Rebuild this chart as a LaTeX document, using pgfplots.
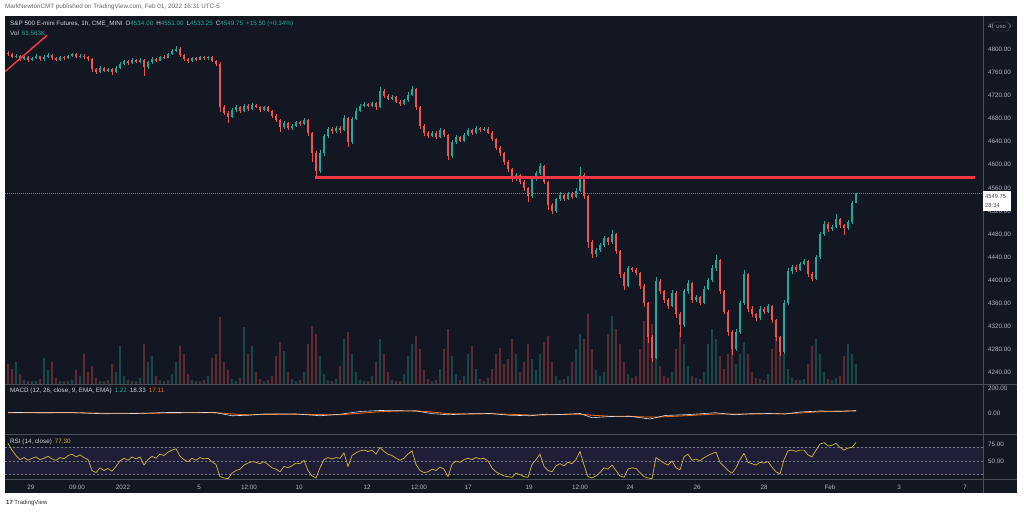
\documentclass[border=0pt]{standalone}
\usepackage{pgfplots}
\usepackage{pgfplotstable}
\pgfplotsset{compat=1.18}
\usepackage{fontspec}
\setmainfont{Liberation Sans}
\definecolor{bg}{HTML}{131722}
\definecolor{upc}{HTML}{26A69A}
\definecolor{dnc}{HTML}{EF5350}
\definecolor{txt}{HTML}{D1D4DC}
\definecolor{axtxt}{HTML}{B2B5BE}
\definecolor{sep}{HTML}{4A4E59}
\definecolor{rsic}{HTML}{CDB73E}
\definecolor{band}{HTML}{1F1E36}
\definecolor{sig}{HTML}{FF6D00}
\definecolor{macdc}{HTML}{D8DCE6}
\definecolor{trendred}{RGB}{242,54,69}
\definecolor{pline}{HTML}{7A7E89}

\pgfplotstableread{
x o h l c v r
8 4795 4798 4789 4792 20 76
12 4792 4794 4785 4788 15 66
16 4788 4793 4786 4790 22 58
20 4790 4791 4781 4784 10 52
24 4784 4790 4782 4787 4 55
28 4787 4789 4779 4782 3 51
32 4782 4788 4780 4786 3 54
36 4786 4792 4784 4789 3 56
40 4789 4790 4781 4784 5 52
44 4784 4791 4780 4787 26 54
48 4787 4795 4785 4791 14 57
52 4791 4793 4783 4786 22 53
56 4786 4788 4780 4783 6 51
60 4783 4789 4781 4787 3 55
64 4787 4789 4783 4785 3 53
68 4785 4791 4784 4789 3 58
72 4789 4795 4787 4792 4 60
76 4792 4794 4786 4788 14 56
80 4788 4793 4786 4790 8 59
84 4790 4792 4784 4787 30 55
88 4787 4789 4780 4784 12 52
92 4784 4785 4762 4766 18 36
96 4766 4769 4758 4762 6 33
100 4762 4771 4760 4768 3 40
104 4768 4770 4761 4763 3 36
108 4763 4769 4761 4766 4 39
112 4766 4768 4757 4761 20 35
116 4761 4771 4759 4768 12 42
120 4768 4779 4766 4776 38 50
124 4776 4783 4774 4780 8 54
128 4780 4782 4774 4777 4 51
132 4777 4785 4776 4782 3 56
136 4782 4784 4777 4779 3 53
140 4779 4786 4777 4783 6 56
144 4783 4784 4755 4770 40 44
148 4770 4781 4767 4778 22 52
152 4778 4787 4776 4784 28 57
156 4784 4786 4778 4781 8 54
160 4781 4790 4780 4788 4 60
164 4788 4791 4784 4786 3 58
168 4786 4795 4785 4793 4 63
172 4793 4801 4791 4798 10 66
176 4798 4806 4796 4802 22 68
180 4802 4804 4788 4791 38 57
184 4791 4793 4781 4784 30 52
188 4784 4786 4777 4780 10 49
192 4780 4788 4779 4786 4 54
196 4786 4788 4781 4783 3 51
200 4783 4790 4782 4788 3 55
204 4788 4790 4783 4785 4 53
208 4785 4790 4783 4787 8 54
212 4787 4789 4778 4781 26 49
216 4781 4783 4772 4776 30 45
220 4776 4778 4692 4700 67 27
224 4700 4704 4686 4690 22 25
228 4690 4694 4673 4683 14 24
232 4683 4698 4681 4695 5 32
236 4695 4704 4692 4700 3 36
240 4700 4702 4690 4693 6 38
244 4693 4705 4691 4702 57 44
248 4702 4706 4694 4697 30 47
252 4697 4708 4695 4704 38 49
256 4704 4706 4698 4700 12 48
260 4700 4702 4692 4695 5 46
264 4695 4703 4693 4701 3 49
268 4701 4703 4691 4694 4 45
272 4694 4696 4682 4685 8 40
276 4685 4688 4674 4678 28 38
280 4678 4680 4657 4665 42 34
284 4665 4676 4662 4672 33 42
288 4672 4674 4660 4664 12 40
292 4664 4671 4661 4668 5 43
296 4668 4677 4666 4674 3 47
300 4674 4676 4668 4671 4 46
304 4671 4681 4669 4678 12 51
308 4678 4680 4650 4655 40 36
312 4655 4657 4605 4620 58 28
316 4620 4624 4577 4590 50 25
320 4590 4625 4585 4620 28 40
324 4620 4654 4616 4650 10 52
328 4650 4666 4647 4662 4 55
332 4662 4665 4654 4658 3 53
336 4658 4667 4655 4664 5 55
340 4664 4667 4656 4660 18 54
344 4660 4687 4658 4682 45 62
348 4682 4684 4631 4640 52 42
352 4640 4684 4637 4680 30 58
356 4680 4698 4678 4694 12 62
360 4694 4706 4691 4702 4 65
364 4702 4709 4700 4706 3 66
368 4706 4708 4700 4703 3 64
372 4703 4710 4701 4707 8 66
376 4707 4709 4696 4700 22 60
380 4700 4736 4698 4728 45 70
384 4728 4731 4716 4720 30 64
388 4720 4723 4712 4715 12 60
392 4715 4721 4713 4718 4 58
396 4718 4720 4707 4710 3 54
400 4710 4712 4703 4706 3 51
404 4706 4715 4704 4712 10 54
408 4712 4726 4710 4722 28 60
412 4722 4737 4720 4732 40 65
416 4732 4734 4695 4700 48 45
420 4700 4702 4662 4668 35 36
424 4668 4671 4650 4655 14 33
428 4655 4658 4646 4650 5 34
432 4650 4659 4648 4656 3 38
436 4656 4658 4645 4648 4 36
440 4648 4664 4646 4660 15 41
444 4660 4663 4648 4652 35 38
448 4652 4654 4609 4615 55 27
452 4615 4644 4612 4640 28 45
456 4640 4652 4637 4648 10 50
460 4648 4650 4639 4642 4 48
464 4642 4655 4640 4652 8 52
468 4652 4664 4650 4660 30 54
472 4660 4662 4652 4655 38 52
476 4655 4667 4653 4664 15 55
480 4664 4666 4657 4660 5 53
484 4660 4666 4658 4663 3 54
488 4663 4665 4653 4656 6 50
492 4656 4658 4642 4645 15 40
496 4645 4647 4626 4630 30 34
500 4630 4633 4615 4620 36 31
504 4620 4622 4600 4605 20 28
508 4605 4608 4588 4592 25 27
512 4592 4595 4570 4575 45 26
516 4575 4586 4572 4582 30 32
520 4582 4584 4566 4570 12 30
524 4570 4573 4555 4560 22 27
528 4560 4562 4535 4545 40 26
532 4545 4579 4542 4575 25 45
536 4575 4589 4572 4585 14 52
540 4585 4604 4582 4598 30 60
544 4598 4600 4566 4570 42 42
548 4570 4572 4522 4530 48 36
552 4530 4534 4514 4520 22 34
556 4520 4543 4517 4540 8 43
560 4540 4552 4537 4548 4 46
564 4548 4550 4537 4540 5 43
568 4540 4553 4538 4550 8 48
572 4550 4552 4541 4544 22 46
576 4544 4560 4542 4555 35 52
580 4555 4596 4552 4582 50 64
584 4582 4585 4540 4545 45 44
588 4545 4548 4455 4465 70 27
592 4465 4470 4438 4445 35 25
596 4445 4456 4440 4452 14 28
600 4452 4464 4449 4460 8 33
604 4460 4476 4457 4472 12 40
608 4472 4475 4461 4465 50 38
612 4465 4487 4462 4480 68 44
616 4480 4482 4445 4450 55 36
620 4450 4452 4403 4410 40 28
624 4410 4413 4383 4390 22 26
628 4390 4424 4387 4420 10 38
632 4420 4423 4414 4418 6 40
636 4418 4421 4408 4412 8 39
640 4412 4414 4385 4390 35 33
644 4390 4392 4352 4360 63 27
648 4360 4362 4290 4300 72 25
652 4300 4305 4257 4265 60 24
656 4265 4405 4262 4398 45 55
660 4398 4402 4375 4380 18 51
664 4380 4383 4360 4365 8 47
668 4365 4368 4350 4355 6 44
672 4355 4383 4352 4378 12 50
676 4378 4380 4333 4340 35 40
680 4340 4344 4300 4322 52 37
684 4322 4385 4318 4380 40 56
688 4380 4400 4376 4395 18 60
692 4395 4397 4360 4365 8 51
696 4365 4374 4362 4370 6 53
700 4370 4372 4356 4360 5 50
704 4360 4389 4358 4385 12 55
708 4385 4404 4382 4400 40 58
712 4400 4425 4397 4420 55 61
716 4420 4444 4416 4435 45 63
720 4435 4437 4375 4380 28 48
724 4380 4383 4340 4345 15 42
728 4345 4348 4303 4310 30 36
732 4310 4313 4270 4280 40 32
736 4280 4315 4277 4310 20 40
740 4310 4364 4306 4360 30 52
744 4360 4418 4356 4410 42 61
748 4410 4412 4345 4350 30 48
752 4350 4354 4335 4340 12 46
756 4340 4343 4328 4333 6 44
760 4333 4354 4330 4350 5 48
764 4350 4353 4341 4345 4 47
768 4345 4358 4342 4355 10 49
772 4355 4357 4325 4330 35 41
776 4330 4332 4294 4300 50 34
780 4300 4303 4268 4275 45 31
784 4275 4365 4272 4360 30 52
788 4360 4420 4356 4415 15 65
792 4415 4426 4411 4422 6 66
796 4422 4425 4414 4418 4 64
800 4418 4431 4416 4428 4 66
804 4428 4436 4425 4432 5 66
808 4432 4434 4405 4410 20 59
812 4410 4414 4398 4402 38 56
816 4402 4444 4399 4440 45 66
820 4440 4484 4437 4480 30 75
824 4480 4503 4476 4498 12 77
828 4498 4501 4484 4488 5 72
832 4488 4496 4485 4492 4 73
836 4492 4515 4490 4505 6 76
840 4505 4507 4491 4495 8 70
844 4495 4498 4478 4490 28 66
848 4490 4504 4487 4500 40 69
852 4500 4537 4497 4534 30 70
856 4534 4551 4533.25 4549.75 20 77.3
}\ohlc

\pgfplotstableread{
x m s
8 5 3
40 2 3
72 3 3
104 -6 -2
136 -4 -3
168 4 0
200 5 3
216 2 3
232 -22 -8
248 -18 -14
264 -8 -12
296 -8 -9
320 -22 -13
340 -10 -14
360 12 -2
380 20 10
400 18 16
416 16 17
432 -5 8
448 -14 -5
470 -6 -8
490 -4 -6
510 -18 -10
530 -22 -16
545 -10 -15
560 -12 -12
580 -4 -9
592 -38 -18
610 -28 -26
630 -26 -27
650 -48 -33
665 -20 -30
690 -12 -20
715 2 -8
735 -14 -8
750 -6 -8
770 -4 -6
785 -8 -6
800 8 0
820 16 10
840 14 14
856 18.33 17.11
}\macd

\pgfplotsset{
 panel/.style={scale only axis, width=978pt, xmin=5, xmax=983, anchor=south west,
   axis line style={draw=none}, major tick length=0pt, xtick=\empty,
   yticklabel pos=right,
   tick label style={font=\fontsize{6.3}{7}\selectfont, text=axtxt},
   yticklabel style={anchor=west, xshift=1.5pt},
   yticklabel={\pgfmathprintnumber[fixed, fixed zerofill, precision=2, 1000 sep={}, assume math mode=true]{\tick}}}
}

\begin{document}
\begin{tikzpicture}
\begin{scope}[x=1pt,y=1pt]
\fill[white] (0,0) rectangle (1024,514);
\fill[bg] (5,21) rectangle (1017,498);
\end{scope}
% volume
\begin{axis}[panel, at={(5pt,130pt)}, height=367pt, ymin=0, ymax=367, ytick=\empty]
\addplot[ycomb, line width=2.4pt, upc, opacity=0.35, restrict expr to domain={\thisrow{c}-\thisrow{o}}{0:100000}] table[x=x,y=v]{\ohlc};
\addplot[ycomb, line width=2.4pt, dnc, opacity=0.35, restrict expr to domain={\thisrow{c}-\thisrow{o}}{-100000:-0.001}] table[x=x,y=v]{\ohlc};
\end{axis}
% price
\begin{axis}[panel, at={(5pt,130pt)}, height=367pt, ymin=4219, ymax=4857, ytick={4240,4280,...,4840}]
\draw[pline, line width=0.5pt, dash pattern=on 1pt off 1pt] (axis cs:5,4549.75) -- (axis cs:983,4549.75);
\addplot[upc, line width=0.7pt, quiver={u=0, v=\thisrow{h}-\thisrow{l}},
  restrict expr to domain={\thisrow{c}-\thisrow{o}}{0:100000}] table[x=x, y=l]{\ohlc};
\addplot[dnc, line width=0.7pt, quiver={u=0, v=\thisrow{h}-\thisrow{l}},
  restrict expr to domain={\thisrow{c}-\thisrow{o}}{-100000:-0.001}] table[x=x, y=l]{\ohlc};
\addplot[upc, line width=2.6pt, quiver={u=0, v=\thisrow{c}-\thisrow{o}},
  restrict expr to domain={\thisrow{c}-\thisrow{o}}{0:100000}] table[x=x, y=o]{\ohlc};
\addplot[dnc, line width=2.6pt, quiver={u=0, v=\thisrow{c}-\thisrow{o}},
  restrict expr to domain={\thisrow{c}-\thisrow{o}}{-100000:-0.001}] table[x=x, y=o]{\ohlc};
\addplot[trendred, line width=2.3pt, mark=none] coordinates {(315,4578) (975,4578)};
\addplot[trendred, line width=1.5pt, mark=none] coordinates {(5,4762) (47,4825)};
\end{axis}
% MACD
\begin{axis}[panel, at={(5pt,80pt)}, height=50pt, ymin=-168, ymax=232, ytick={0,200}]
\addplot[sig, line width=0.8pt] table[x=x,y=s]{\macd};
\addplot[macdc, line width=0.6pt] table[x=x,y=m]{\macd};
\end{axis}
% RSI
\begin{axis}[panel, at={(5pt,35pt)}, height=45pt, ymin=23.5, ymax=89.7, ytick={50,75},
  xtick={31,77,123,199,249,299,367,419,468,529,580,630,697,764,830,899,965},
  xticklabels={29,09:00,2022,5,12:00,10,12,12:00,17,19,12:00,24,26,28,Feb,3,7},
  xticklabel style={anchor=north, yshift=-2.5pt}]
\fill[band] (axis cs:5,30) rectangle (axis cs:983,70);
\draw[pline, line width=0.4pt, dash pattern=on 2pt off 2pt] (axis cs:5,70) -- (axis cs:983,70);
\draw[pline, line width=0.4pt, dash pattern=on 2pt off 2pt] (axis cs:5,50) -- (axis cs:983,50);
\draw[pline, line width=0.4pt, dash pattern=on 2pt off 2pt] (axis cs:5,30) -- (axis cs:983,30);
\addplot[rsic, line width=0.7pt] table[x=x,y=r]{\ohlc};
\end{axis}
\begin{scope}[x=1pt,y=1pt]
% separators
\draw[sep, line width=0.8pt] (5,130) -- (1017,130);
\draw[sep, line width=0.8pt] (5,80) -- (1017,80);
\draw[sep, line width=0.8pt] (5,35) -- (1017,35);
\draw[sep, line width=0.8pt] (983,21) -- (983,498);
% price box
\fill[white] (983,303) rectangle (1011,323);
\node[anchor=west, inner sep=0pt, font=\fontsize{5.8}{6}\selectfont, text=black!70] at (985,317.5) {4549.75};
\node[anchor=west, inner sep=0pt, font=\fontsize{5.8}{6}\selectfont, text=black!70] at (985,308.5) {28:34};
% USD badge
\draw[fill=bg, draw=sep, rounded corners=1.5pt] (993,483) rectangle (1009,492);
\node[inner sep=0pt, font=\fontsize{4.5}{5}\selectfont, text=axtxt] at (1001,487.5) {USD};
% texts
\node[anchor=west, inner sep=0pt, font=\fontsize{6.3}{7}\selectfont, text=black!60] at (5,507) {MarkNewtonCMT published on TradingView.com, Feb 01, 2022 16:31 UTC-5};
\node[anchor=west, inner sep=0pt, font=\fontsize{6.3}{7}\selectfont, text=txt] at (10,490) {S\&P 500 E-mini Futures, 1h, CME\_MINI\hspace{3pt}O\textcolor{upc}{4534.00}\hspace{3pt}H\textcolor{upc}{4551.00}\hspace{3pt}L\textcolor{upc}{4533.25}\hspace{3pt}C\textcolor{upc}{4549.75}\hspace{3pt}\textcolor{upc}{+15.50 (+0.34\%)}};
\node[anchor=west, inner sep=0pt, font=\fontsize{6.3}{7}\selectfont, text=txt] at (10,481) {Vol\hspace{3pt}\textcolor{upc}{63.563K}};
\node[anchor=west, inner sep=0pt, font=\fontsize{6.3}{7}\selectfont, text=txt] at (10,123) {MACD (12, 26, close, 9, EMA, EMA)\hspace{3pt}\textcolor{upc}{1.22}\hspace{3pt}18.33\hspace{3pt}\textcolor{sig}{17.11}};
\node[anchor=west, inner sep=0pt, font=\fontsize{6.3}{7}\selectfont, text=txt] at (10,72) {RSI (14, close)\hspace{3pt}\textcolor{rsic}{77.30}};
\node[anchor=west, inner sep=0pt, font=\fontsize{6}{7}\selectfont, text=black!80] at (6,11) {\textbf{17}\hspace{1.5pt}TradingView};
\pgfresetboundingbox
\useasboundingbox (0,0) rectangle (1024,514);
\end{scope}
\end{tikzpicture}
\end{document}
